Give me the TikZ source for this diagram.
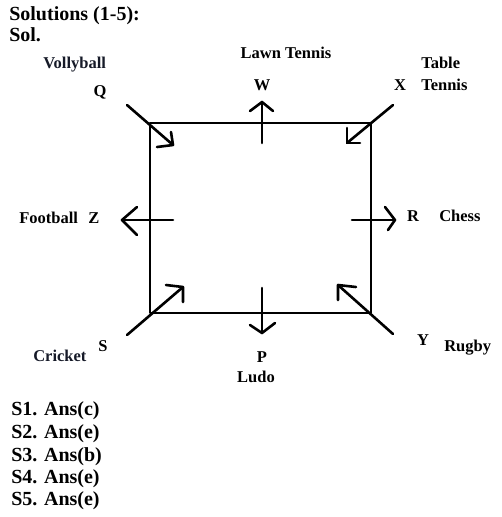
\documentclass[tikz,border=0pt]{standalone}
\usepackage{fontspec}
\setmainfont{Liberation Serif}
\begin{document}
\begin{tikzpicture}[x=1pt,y=-1pt,
  line width=2.6pt, line cap=round, line join=round,
  lbl/.style={inner sep=0pt, font=\bfseries\fontsize{16.5}{18}\selectfont},
  big/.style={inner sep=0pt, font=\bfseries\fontsize{20}{22}\selectfont, anchor=base west},
  navy/.style={text={rgb,255:red,22;green,26;blue,40}},
  shaft/.style={line width=2.6pt},
  head/.style={line width=2.6pt}]
\useasboundingbox (0,0) rectangle (501,517);
% header
\node[big] (t1) at (8,20) {Solutions (1-5):};
\node[big] (t2) at (8,41) {Sol.};
% square
\coordinate (c1) at (150,123);
\coordinate (c2) at (371,313);
\draw (c1) rectangle (c2);
% arrows: Q
\coordinate (qa) at (127,105); \coordinate (qt) at (173,145);
\draw[shaft] (qa) -- (qt);
\draw[head] (171,132) -- (qt) -- (157,147);
% W
\coordinate (wa) at (262,143); \coordinate (wt) at (262,102);
\draw[shaft] (wa) -- (wt);
\draw[head] (250,111) -- (wt) -- (273,111);
% X
\coordinate (xa) at (393,105); \coordinate (xt) at (347,143);
\draw[shaft] (xa) -- (xt);
\draw[head] (347,128) -- (xt) -- (360,143);
% Z
\coordinate (za) at (173,220); \coordinate (zt) at (122,220);
\draw[shaft] (za) -- (zt);
\draw[head] (137,207) -- (zt) -- (137,235);
% R
\coordinate (ra) at (352,220); \coordinate (rt) at (395,220);
\draw[shaft] (ra) -- (rt);
\draw[head] (385,207) -- (rt) -- (388,230);
% S
\coordinate (sa) at (127,335); \coordinate (st) at (183,287);
\draw[shaft] (sa) -- (st);
\draw[head] (166,285) -- (st) -- (183,302);
% P
\coordinate (pa) at (262,288); \coordinate (pt) at (262,333);
\draw[shaft] (pa) -- (pt);
\draw[head] (250,325) -- (pt) -- (275,323);
% Y
\coordinate (ya) at (393,334); \coordinate (yt) at (338,285);
\draw[shaft] (ya) -- (yt);
\draw[head] (338,300) -- (yt) -- (356,287);
% labels
\node[lbl,navy,anchor=base west] (vb) at (42,68) {Vollyball};
\node[lbl,anchor=base] (lq) at (100,96) {Q};
\node[lbl,anchor=base] (lt) at (286,58) {Lawn Tennis};
\node[lbl,anchor=base] (lw) at (262,90) {W};
\node[lbl,anchor=base west] (tb) at (420,68) {Table};
\node[lbl,anchor=base west] (tn) at (420,90) {Tennis};
\node[lbl,anchor=base] (lx) at (400,90) {X};
\node[lbl,anchor=base west] (fb) at (18,223) {Football};
\node[lbl,anchor=base] (lz) at (94,223) {Z};
\node[lbl,anchor=base] (lr) at (413,221) {R};
\node[lbl,anchor=base west] (ch) at (438,221) {Chess};
\node[lbl,navy,anchor=base west] (cr) at (32,361) {Cricket};
\node[lbl,anchor=base] (ls) at (103,351) {S};
\node[lbl,anchor=base] (lp) at (262,362) {P};
\node[lbl,anchor=base] (ld) at (256,382) {Ludo};
\node[lbl,anchor=base] (ly) at (423,345) {Y};
\node[lbl,anchor=base west] (rg) at (443,351) {Rugby};
% answers
\node[big] (a1) at (10,415) {S1. Ans(c)};
\node[big] (a2) at (10,438) {S2. Ans(e)};
\node[big] (a3) at (10,461) {S3. Ans(b)};
\node[big] (a4) at (10,483) {S4. Ans(e)};
\node[big] (a5) at (10,505) {S5. Ans(e)};
\end{tikzpicture}
\end{document}
